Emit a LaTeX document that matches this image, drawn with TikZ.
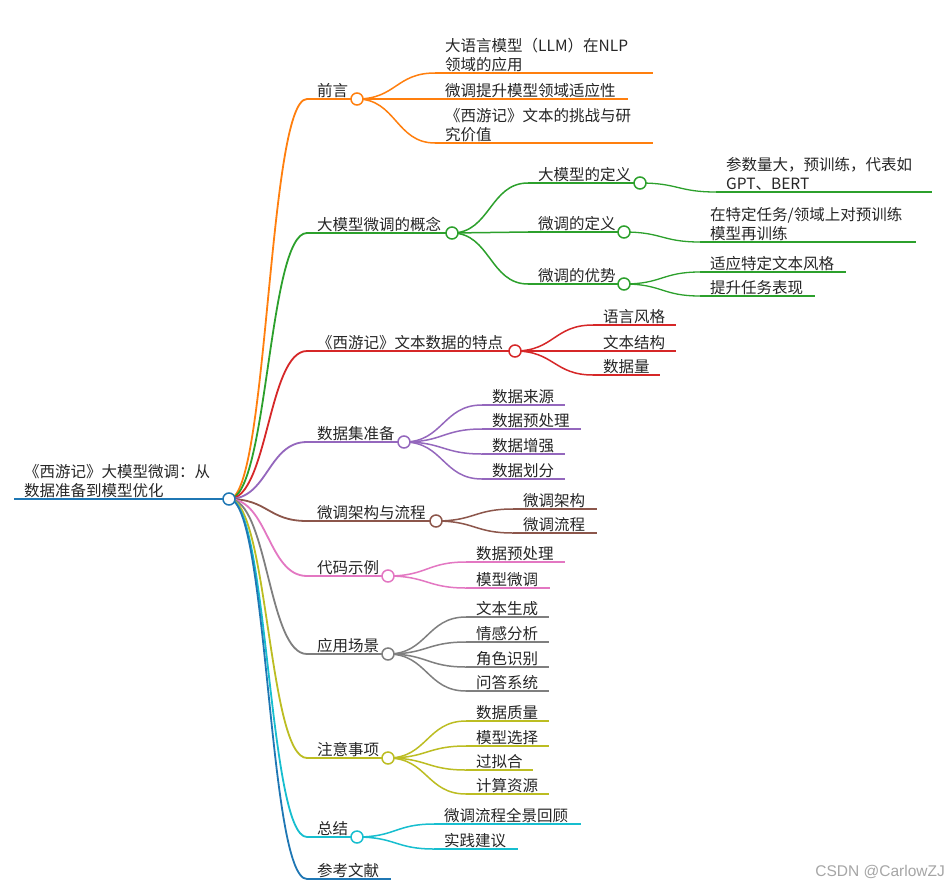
\documentclass[tikz,border=0pt]{standalone}
\usepackage{fontspec}
\setmainfont{Noto Sans CJK SC}
\newfontfamily\wmfont{Liberation Sans}
\usetikzlibrary{calc}
\pgfdeclarelayer{background}
\pgfsetlayers{background,main}
\definecolor{cB}{HTML}{1F77B4}
\definecolor{cO}{HTML}{FF7F0E}
\definecolor{cG}{HTML}{2CA02C}
\definecolor{cR}{HTML}{D62728}
\definecolor{cP}{HTML}{9467BD}
\definecolor{cBr}{HTML}{8C564B}
\definecolor{cPk}{HTML}{E377C2}
\definecolor{cGy}{HTML}{7F7F7F}
\definecolor{cOl}{HTML}{BCBD22}
\definecolor{cC}{HTML}{17BECF}
\definecolor{txt}{HTML}{262626}
\tikzset{
  lbl/.style={anchor=base west, inner sep=0pt, font=\fontsize{15.5}{19}\selectfont, text=txt, align=left},
  dot/.style={circle, fill=white, line width=1.5pt, minimum size=12pt, inner sep=0pt},
  wm/.style={anchor=base east, inner sep=0pt, font=\wmfont\fontsize{15.5}{18}\selectfont, text=black!35},
}
% #1 name #2 colour #3 width #4 start x #5 y #6 end x #7 text
\newcommand\mmnode[7]{%
  \coordinate (#1s) at (#4,#5);
  \coordinate (#1e) at (#6,#5);
  \node[lbl] (#1t) at ({#4+10},{#5-2.5}) {#7};
  \begin{pgfonlayer}{background}
    \draw[draw=#2, line width=#3] (#1s) -- (#1e);
  \end{pgfonlayer}}
\newcommand\mmdot[2]{\node[dot, draw=#2] (#1c) at (#1e) {};}
% #1 from #2 to #3 colour #4 width
\newcommand\mmlink[4]{%
  \begin{pgfonlayer}{background}
    \draw[draw=#3, line width=#4] let \p1=(#1), \p2=(#2) in
      (\p1) .. controls ({(\x1+\x2)/2},\y1) and ({(\x1+\x2)/2},\y2) .. (\p2);
  \end{pgfonlayer}}
\begin{document}
\begin{tikzpicture}[x=1pt,y=-1pt]
\begin{pgfonlayer}{background}
\fill[white] (0,0) rectangle (949,886);
\end{pgfonlayer}
\useasboundingbox (0,0) rectangle (949,886);

% root
\mmnode{r}{cB}{2.5pt}{14}{499}{229}{《西游记》大模型微调：从\\数据准备到模型优化}
\mmdot{r}{cB}

% level 1
\mmnode{a}{cO}{1.8pt}{307}{99}{357}{前言}
\mmnode{b}{cG}{1.8pt}{307}{233}{452}{大模型微调的概念}
\mmnode{c}{cR}{1.8pt}{307}{351}{515}{《西游记》文本数据的特点}
\mmnode{d}{cP}{1.8pt}{307}{442}{404}{数据集准备}
\mmnode{e}{cBr}{1.8pt}{307}{521}{436}{微调架构与流程}
\mmnode{f}{cPk}{1.8pt}{307}{576}{388}{代码示例}
\mmnode{g}{cGy}{1.8pt}{307}{654}{388}{应用场景}
\mmnode{h}{cOl}{1.8pt}{307}{758}{388}{注意事项}
\mmnode{i}{cC}{1.8pt}{307}{837}{357}{总结}
\mmnode{j}{cB}{1.8pt}{307}{879}{391}{参考文献}
\mmdot{a}{cO}\mmdot{b}{cG}\mmdot{c}{cR}\mmdot{d}{cP}\mmdot{e}{cBr}
\mmdot{f}{cPk}\mmdot{g}{cGy}\mmdot{h}{cOl}\mmdot{i}{cC}
\mmlink{rc.center}{as}{cO}{1.8pt}
\mmlink{rc.center}{bs}{cG}{1.8pt}
\mmlink{rc.center}{cs}{cR}{1.8pt}
\mmlink{rc.center}{ds}{cP}{1.8pt}
\mmlink{rc.center}{es}{cBr}{1.8pt}
\mmlink{rc.center}{fs}{cPk}{1.8pt}
\mmlink{rc.center}{gs}{cGy}{1.8pt}
\mmlink{rc.center}{hs}{cOl}{1.8pt}
\mmlink{rc.center}{is}{cC}{1.8pt}
\mmlink{rc.center}{js}{cB}{1.8pt}

% 前言
\mmnode{a1}{cO}{1.5pt}{435}{73}{653}{大语言模型（LLM）在NLP\\领域的应用}
\mmnode{a2}{cO}{1.5pt}{435}{99}{628}{微调提升模型领域适应性}
\mmnode{a3}{cO}{1.5pt}{435}{143}{653}{《西游记》文本的挑战与研\\究价值}
\mmlink{ac.center}{a1s}{cO}{1.5pt}
\mmlink{ac.center}{a2s}{cO}{1.5pt}
\mmlink{ac.center}{a3s}{cO}{1.5pt}

% 大模型微调的概念
\mmnode{b1}{cG}{1.5pt}{528}{183}{640}{大模型的定义}
\mmnode{b2}{cG}{1.5pt}{528}{232}{624}{微调的定义}
\mmnode{b3}{cG}{1.5pt}{528}{284}{624}{微调的优势}
\mmdot{b1}{cG}\mmdot{b2}{cG}\mmdot{b3}{cG}
\mmlink{bc.center}{b1s}{cG}{1.5pt}
\mmlink{bc.center}{b2s}{cG}{1.5pt}
\mmlink{bc.center}{b3s}{cG}{1.5pt}
\mmnode{b1a}{cG}{1.3pt}{716}{192}{932}{参数量大，预训练，代表如\\GPT、BERT}
\mmnode{b2a}{cG}{1.3pt}{700}{242}{916}{在特定任务/领域上对预训练\\模型再训练}
\mmnode{b3a}{cG}{1.3pt}{700}{272}{846}{适应特定文本风格}
\mmnode{b3b}{cG}{1.3pt}{700}{296}{815}{提升任务表现}
\mmlink{b1c.center}{b1as}{cG}{1.3pt}
\mmlink{b2c.center}{b2as}{cG}{1.3pt}
\mmlink{b3c.center}{b3as}{cG}{1.3pt}
\mmlink{b3c.center}{b3bs}{cG}{1.3pt}

% 文本数据的特点
\mmnode{c1}{cR}{1.5pt}{593}{325}{676}{语言风格}
\mmnode{c2}{cR}{1.5pt}{593}{351}{676}{文本结构}
\mmnode{c3}{cR}{1.5pt}{593}{375}{660}{数据量}
\mmlink{cc.center}{c1s}{cR}{1.5pt}
\mmlink{cc.center}{c2s}{cR}{1.5pt}
\mmlink{cc.center}{c3s}{cR}{1.5pt}

% 数据集准备
\mmnode{d1}{cP}{1.5pt}{482}{405}{565}{数据来源}
\mmnode{d2}{cP}{1.5pt}{482}{429}{581}{数据预处理}
\mmnode{d3}{cP}{1.5pt}{482}{454}{565}{数据增强}
\mmnode{d4}{cP}{1.5pt}{482}{479}{565}{数据划分}
\mmlink{dc.center}{d1s}{cP}{1.5pt}
\mmlink{dc.center}{d2s}{cP}{1.5pt}
\mmlink{dc.center}{d3s}{cP}{1.5pt}
\mmlink{dc.center}{d4s}{cP}{1.5pt}

% 微调架构与流程
\mmnode{e1}{cBr}{1.5pt}{513}{509}{597}{微调架构}
\mmnode{e2}{cBr}{1.5pt}{513}{533}{597}{微调流程}
\mmlink{ec.center}{e1s}{cBr}{1.5pt}
\mmlink{ec.center}{e2s}{cBr}{1.5pt}

% 代码示例
\mmnode{f1}{cPk}{1.5pt}{466}{562}{565}{数据预处理}
\mmnode{f2}{cPk}{1.5pt}{466}{588}{550}{模型微调}
\mmlink{fc.center}{f1s}{cPk}{1.5pt}
\mmlink{fc.center}{f2s}{cPk}{1.5pt}

% 应用场景
\mmnode{g1}{cGy}{1.5pt}{466}{617}{549}{文本生成}
\mmnode{g2}{cGy}{1.5pt}{466}{642}{549}{情感分析}
\mmnode{g3}{cGy}{1.5pt}{466}{667}{549}{角色识别}
\mmnode{g4}{cGy}{1.5pt}{466}{691}{549}{问答系统}
\mmlink{gc.center}{g1s}{cGy}{1.5pt}
\mmlink{gc.center}{g2s}{cGy}{1.5pt}
\mmlink{gc.center}{g3s}{cGy}{1.5pt}
\mmlink{gc.center}{g4s}{cGy}{1.5pt}

% 注意事项
\mmnode{h1}{cOl}{1.5pt}{466}{721}{549}{数据质量}
\mmnode{h2}{cOl}{1.5pt}{466}{746}{549}{模型选择}
\mmnode{h3}{cOl}{1.5pt}{466}{770}{533}{过拟合}
\mmnode{h4}{cOl}{1.5pt}{466}{794}{549}{计算资源}
\mmlink{hc.center}{h1s}{cOl}{1.5pt}
\mmlink{hc.center}{h2s}{cOl}{1.5pt}
\mmlink{hc.center}{h3s}{cOl}{1.5pt}
\mmlink{hc.center}{h4s}{cOl}{1.5pt}

% 总结
\mmnode{i1}{cC}{1.5pt}{434}{824}{581}{微调流程全景回顾}
\mmnode{i2}{cC}{1.5pt}{434}{849}{518}{实践建议}
\mmlink{ic.center}{i1s}{cC}{1.5pt}
\mmlink{ic.center}{i2s}{cC}{1.5pt}

% watermark
\node[wm] (wmk) at (945,876) {CSDN @CarlowZJ};
\end{tikzpicture}
\end{document}
